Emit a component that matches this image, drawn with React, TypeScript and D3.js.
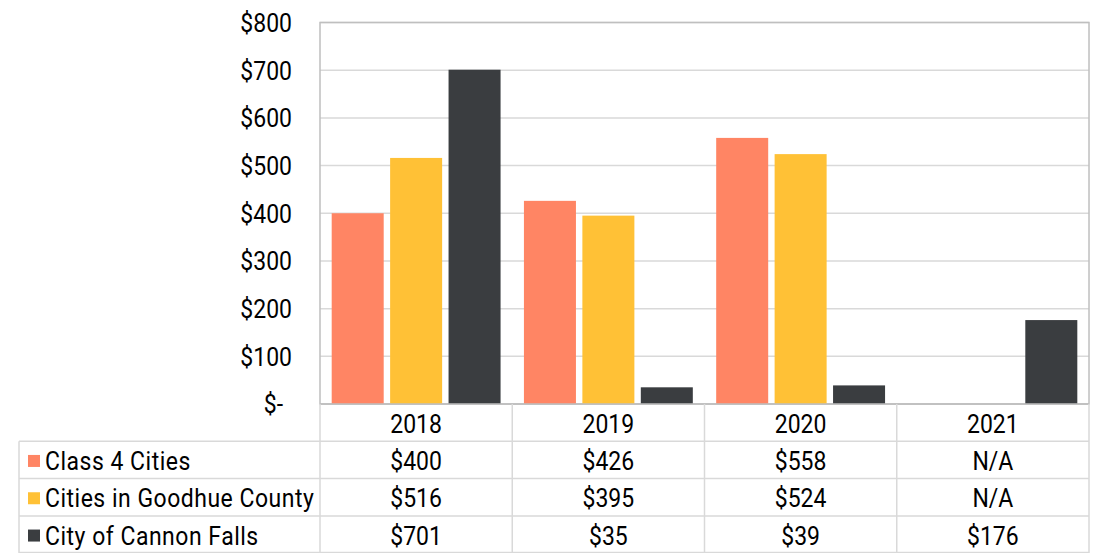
import React from "react";
import * as d3 from "d3";

const years = ["2018", "2019", "2020", "2021"];
const seriesNames = ["Class 4 Cities", "Cities in Goodhue County", "City of Cannon Falls"];
const class4Values: (number | null)[] = [400, 426, 558, null];
const goodhueValues: (number | null)[] = [516, 395, 524, null];
const cannonValues: (number | null)[] = [701, 35, 39, 176];
const seriesColors = ["#FF8564", "#FFC136", "#3A3D40"];
const yTicks = [0, 100, 200, 300, 400, 500, 600, 700, 800];

const allSeries = [class4Values, goodhueValues, cannonValues];

const W = 1094;
const H = 553;
const left = 320;
const right = 1089;
const top = 22.5;
const bottom = 404;
const rowH = 37.3;
const legendLeft = 19;
const font = "Roboto, 'Noto Sans', sans-serif";
const FS = 23;

function T({
  x,
  y,
  anchor = "start",
  ls = 0,
  children,
}: {
  x: number;
  y: number;
  anchor?: string;
  ls?: number;
  children: React.ReactNode;
}) {
  return (
    <g transform={`translate(${x},${y}) scale(1,1.12)`}>
      <text
        x={0}
        y={0}
        textAnchor={anchor as any}
        dominantBaseline="central"
        fontSize={FS}
        letterSpacing={ls}
        fill="#000"
      >
        {children}
      </text>
    </g>
  );
}

export default function App() {
  const x = d3.scaleBand<string>().domain(years).range([left, right]).padding(0);
  const inner = d3
    .scaleBand<number>()
    .domain([0, 1, 2])
    .range([0, x.bandwidth()])
    .paddingInner(0.11)
    .paddingOuter(0.2);
  const y = d3.scaleLinear().domain([0, 800]).range([bottom, top]);

  const fmtTick = (v: number) => (v === 0 ? "$-" : d3.format("$,")(v));
  const fmtVal = (v: number | null) => (v == null ? "N/A" : d3.format("$,")(v));

  const rowTops = [bottom, bottom + rowH, bottom + 2 * rowH, bottom + 3 * rowH];

  return (
    <svg
      width={W}
      height={H}
      style={{ position: "absolute", left: 0, top: 0, background: "#fff" }}
      fontFamily={font}
    >
      {yTicks.map((t) => (
        <line key={"g" + t} x1={left} x2={right} y1={y(t)} y2={y(t)} stroke="#d9d9d9" strokeWidth={1.5} />
      ))}
      <rect x={left} y={top} width={right - left} height={bottom - top} fill="none" stroke="#bfbfbf" strokeWidth={1.5} />
      {yTicks.map((t) => (
        <T key={"t" + t} x={t === 0 ? 283 : 292} y={y(t) + 0.5} anchor="end">
          {fmtTick(t)}
        </T>
      ))}
      {years.map((yr, i) =>
        allSeries.map((s, j) => {
          const v = s[i];
          if (v == null) return null;
          return (
            <rect
              key={yr + j}
              x={(x(yr) as number) + (inner(j) as number)}
              y={y(v)}
              width={inner.bandwidth()}
              height={y(0) - y(v)}
              fill={seriesColors[j]}
            />
          );
        })
      )}
      <line x1={left} x2={right} y1={bottom} y2={bottom} stroke="#bfbfbf" strokeWidth={1.5} />
      {[1, 2, 3].map((r) => (
        <line
          key={"h" + r}
          x1={legendLeft}
          x2={right}
          y1={rowTops[r]}
          y2={rowTops[r]}
          stroke="#d9d9d9"
          strokeWidth={1.5}
        />
      ))}
      <line x1={legendLeft} x2={right} y1={H - 0.5} y2={H - 0.5} stroke="#d9d9d9" strokeWidth={1.5} />
      <line x1={legendLeft} x2={legendLeft} y1={rowTops[1]} y2={H} stroke="#d9d9d9" strokeWidth={1.5} />
      {[...years.map((yr) => x(yr) as number), right].map((xx, k) => (
        <line key={"v" + k} x1={xx} x2={xx} y1={bottom} y2={H} stroke="#d9d9d9" strokeWidth={1.5} />
      ))}
      {years.map((yr) => (
        <T key={"yh" + yr} x={(x(yr) as number) + x.bandwidth() / 2} y={bottom + rowH / 2 + 1} anchor="middle">
          {yr}
        </T>
      ))}
      {seriesNames.map((name, j) => {
        const cy = rowTops[j + 1] + rowH / 2 + 1;
        return (
          <g key={"r" + name}>
            <rect x={28} y={cy - 6} width={12} height={12} fill={seriesColors[j]} />
            <T x={45} y={cy} ls={0.5}>
              {name}
            </T>
            {years.map((yr, i) => (
              <T key={name + yr} x={(x(yr) as number) + x.bandwidth() / 2} y={cy} anchor="middle">
                {fmtVal(allSeries[j][i])}
              </T>
            ))}
          </g>
        );
      })}
    </svg>
  );
}
